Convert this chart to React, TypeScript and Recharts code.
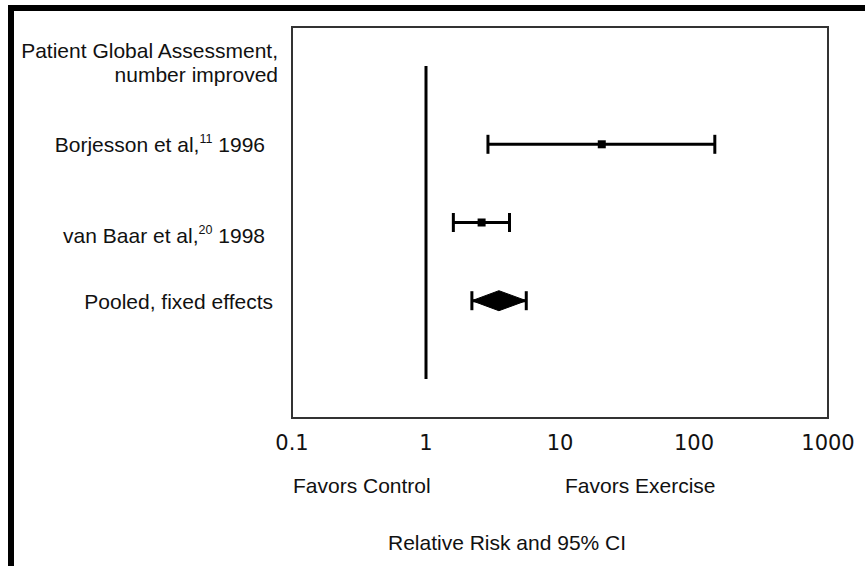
import React from "react";
import {
  ComposedChart,
  XAxis,
  YAxis,
  Scatter,
  ErrorBar,
  Area,
  ReferenceLine,
  ReferenceArea,
  Customized,
} from "recharts";

// ---- content ----
const headingLines = ["Patient Global Assessment,", "number improved"];
const studyNames = ["Borjesson et al,", "van Baar et al,"];
const studyRefs = ["11", "20"];
const studyYears = ["1996", "1998"];
const studyRR = [20.5, 2.6];
const studyLower = [2.9, 1.6];
const studyUpper = [143, 4.2];
const pooledName = "Pooled, fixed effects";
const pooledRR = 3.5;
const pooledLower = 2.2;
const pooledUpper = 5.6;
const xTicks = [0.1, 1, 10, 100, 1000];
const xTickLabels = ["0.1", "1", "10", "100", "1000"];
const sideNotes = ["Favors Control", "Favors Exercise"];
const axisTitle = "Relative Risk and 95% CI";

// ---- layout / styling ----
const W = 857;
const H = 561;
const FONT = '"Liberation Sans", Arial, Helvetica, sans-serif';
const DIGIT_FONT = '"DejaVu Sans", "Liberation Sans", sans-serif';
const TEXT_SIZE = 21;
const SUP_SIZE = 12.5;
const X_DOMAIN: [number, number] = [0.1, 1000];
const Y_DOMAIN: [number, number] = [-0.5, 4.5];
const DIAMOND_HALF = 0.128; // in row units
const pooledRow = studyNames.length + 1;
const nullLineEnd = studyNames.length + 2;

// per-row label placement (dx from plot edge, baseline offsets from row centre)
const labelPlacement = [
  { dx: -14, dys: [-8, 16] },
  { dx: -27, dys: [8] },
  { dx: -27, dys: [20] },
  { dx: -19, dys: [8] },
];

const studyData = studyRR.map((rr, i) => ({
  x: rr,
  y: i + 1,
  err: [rr - studyLower[i], studyUpper[i] - rr],
}));

const pooledPoint = [
  { x: pooledRR, y: pooledRow, err: [pooledRR - pooledLower, pooledUpper - pooledRR] },
];

const pooledDiamond = [
  { x: pooledLower, band: [pooledRow, pooledRow] },
  { x: pooledRR, band: [pooledRow - DIAMOND_HALF, pooledRow + DIAMOND_HALF] },
  { x: pooledUpper, band: [pooledRow, pooledRow] },
];

const textStyle = {
  fontFamily: FONT,
  fontSize: TEXT_SIZE,
  fill: "#111",
};

function RowLabel(props: any) {
  const { x, y, payload } = props;
  const row = payload.value as number;
  const place = labelPlacement[row];
  if (!place) return null;
  const tx = x + place.dx;
  if (row === 0) {
    return (
      <g>
        {headingLines.map((line, i) => (
          <text key={i} x={tx} y={y + place.dys[i]} textAnchor="end" {...textStyle}>
            {line}
          </text>
        ))}
      </g>
    );
  }
  if (row === pooledRow) {
    return (
      <text x={tx} y={y + place.dys[0]} textAnchor="end" {...textStyle}>
        {pooledName}
      </text>
    );
  }
  const i = row - 1;
  return (
    <text x={tx} y={y + place.dys[0]} textAnchor="end" {...textStyle}>
      {studyNames[i]}
      <tspan fontSize={SUP_SIZE} dy={-9}>
        {studyRefs[i]}
      </tspan>
      <tspan dy={9}>{" " + studyYears[i]}</tspan>
    </text>
  );
}

function XTick(props: any) {
  const { x, y, payload } = props;
  const idx = xTicks.indexOf(payload.value);
  return (
    <text
      x={x}
      y={y}
      dy={32}
      textAnchor="middle"
      fontFamily={DIGIT_FONT}
      fontSize={TEXT_SIZE}
      fill="#111"
    >
      {idx >= 0 ? xTickLabels[idx] : String(payload.value)}
    </text>
  );
}

function SquareMark(props: any) {
  const { cx, cy } = props;
  return <rect x={cx - 4} y={cy - 4} width={8} height={8} fill="#000" />;
}

function NoMark() {
  return <g />;
}

function FrameAndNotes() {
  return (
    <g>
      <rect x={0} y={0} width={W} height={6} fill="#000" />
      <rect x={0} y={0} width={6} height={H} fill="#000" />
      <text x={285} y={488} {...textStyle}>
        {sideNotes[0]}
      </text>
      <text x={557} y={488} {...textStyle}>
        {sideNotes[1]}
      </text>
      <text x={380} y={545} {...textStyle}>
        {axisTitle}
      </text>
    </g>
  );
}

export default function App() {
  return (
    <div style={{ position: "fixed", left: 8, top: 5, width: W, height: H, background: "#fff" }}>
      <ComposedChart
        width={W}
        height={H}
        margin={{ top: 22, right: 37, bottom: 88, left: 0 }}
      >
        <XAxis
          dataKey="x"
          type="number"
          scale="log"
          domain={X_DOMAIN}
          ticks={xTicks}
          allowDataOverflow
          axisLine={false}
          tickLine={false}
          tickSize={0}
          tickMargin={0}
          height={60}
          interval={0}
          tick={<XTick />}
        />
        <YAxis
          dataKey="y"
          type="number"
          domain={Y_DOMAIN}
          reversed
          allowDataOverflow
          ticks={[0, 1, 2, 3]}
          interval={0}
          width={284}
          axisLine={false}
          tickLine={false}
          tickSize={0}
          tickMargin={0}
          tick={<RowLabel />}
        />
        <ReferenceArea
          x1={X_DOMAIN[0]}
          x2={X_DOMAIN[1]}
          y1={Y_DOMAIN[0]}
          y2={Y_DOMAIN[1]}
          fill="none"
          fillOpacity={0}
          stroke="#333"
          strokeWidth={2}
          ifOverflow="visible"
        />
        <ReferenceLine
          segment={[
            { x: 1, y: 0 },
            { x: 1, y: nullLineEnd },
          ]}
          stroke="#000"
          strokeWidth={3}
          ifOverflow="visible"
        />
        <Area
          data={pooledDiamond}
          dataKey="band"
          type="linear"
          fill="#000"
          fillOpacity={1}
          stroke="#000"
          strokeWidth={1}
          dot={false}
          activeDot={false}
          isAnimationActive={false}
        />
        <Scatter data={pooledPoint} shape={<NoMark />} isAnimationActive={false}>
          <ErrorBar dataKey="err" direction="x" width={9.5} strokeWidth={3} stroke="#000" />
        </Scatter>
        <Scatter data={studyData} shape={<SquareMark />} isAnimationActive={false}>
          <ErrorBar dataKey="err" direction="x" width={9.5} strokeWidth={3} stroke="#000" />
        </Scatter>
        <Customized component={FrameAndNotes} />
      </ComposedChart>
    </div>
  );
}
